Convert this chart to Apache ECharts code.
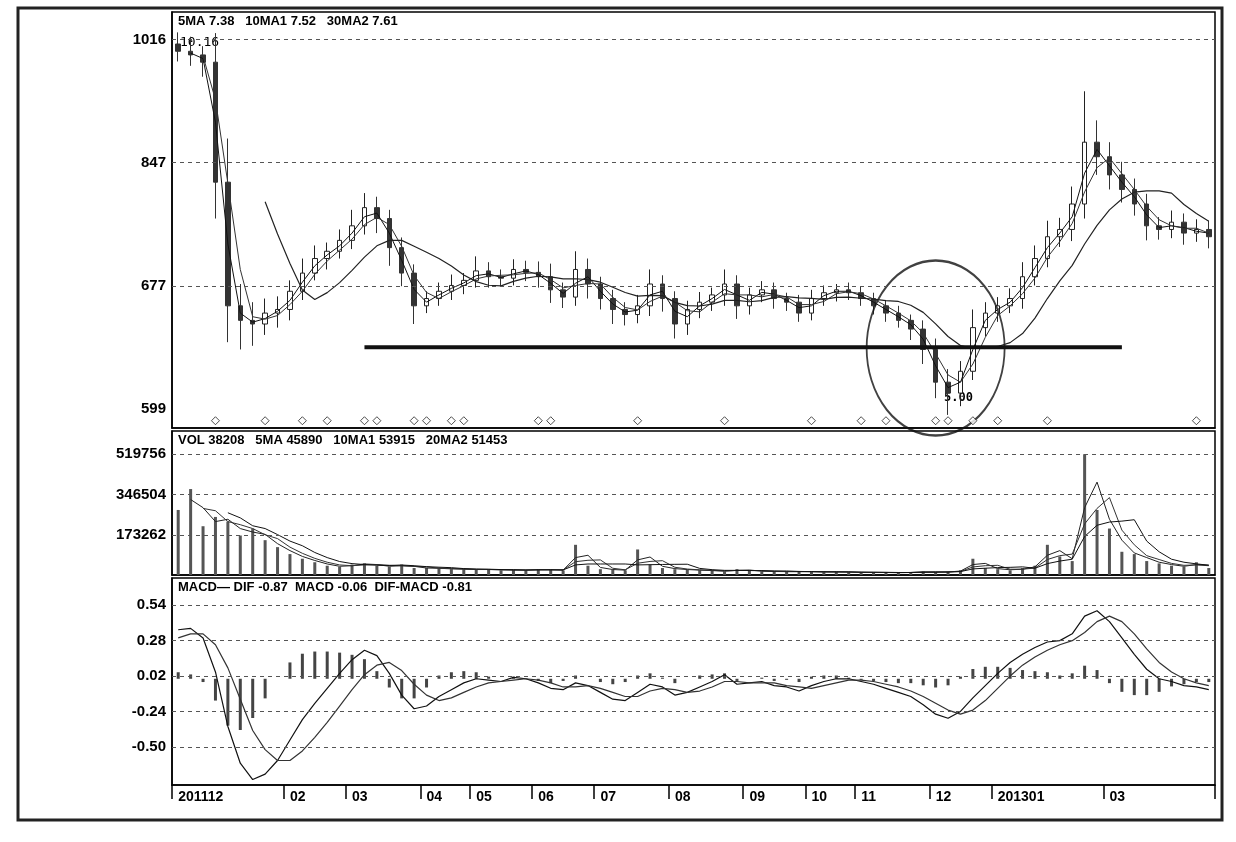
<!DOCTYPE html>
<html><head><meta charset="utf-8">
<script src="https://cdn.jsdelivr.net/npm/echarts@6/dist/echarts.min.js"></script>
<style>html,body{margin:0;background:#fff}#c{width:1236px;height:842px}</style>
</head><body><div id="c"></div>
<script>
const monthLabels = {0:'201112',9:'02',14:'03',20:'04',24:'05',29:'06',34:'07',40:'08',46:'09',51:'10',55:'11',61:'12',66:'201301',75:'03'};
const close = [1000,995,985,820,650,630,625,640,645,670,695,715,725,740,760,785,770,730,695,650,660,670,678,685,698,690,688,700,696,690,672,662,700,680,660,645,638,650,680,660,625,645,655,665,680,650,665,672,660,655,640,660,668,672,668,660,650,640,630,618,590,545,530,560,620,640,650,660,690,715,745,755,790,875,855,830,810,790,760,755,765,750,755,745];
const hiOff = [16,20,12,40,60,30,25,20,18,15,20,18,12,15,22,20,15,12,14,12,10,12,15,10,20,12,10,14,12,15,18,10,25,15,10,12,10,15,20,12,10,12,14,10,20,12,10,12,10,8,10,12,10,8,10,8,8,8,10,8,12,15,18,14,25,15,12,14,20,18,22,16,24,70,30,20,18,15,14,12,16,12,14,12];
const loOff = [14,15,20,50,50,40,30,15,20,15,12,10,15,10,12,12,20,25,18,25,10,10,12,12,10,15,12,10,12,15,18,15,12,20,15,20,15,12,14,18,20,15,12,12,15,18,12,10,14,12,12,10,10,12,10,10,12,12,10,15,20,22,30,18,12,12,12,10,14,12,12,14,16,20,25,20,18,16,20,14,12,16,12,16];
const volume = [280,370,210,250,230,170,200,150,120,90,70,55,40,35,45,50,40,35,45,30,30,28,25,25,22,25,20,22,20,25,22,20,130,40,25,22,20,110,45,30,25,22,20,18,15,25,18,15,15,14,15,14,12,14,12,10,12,10,10,12,15,12,14,20,70,30,25,20,30,40,130,80,60,520,280,200,100,90,60,50,40,35,55,30].map(v=>v*1000);
const dif = [0.36,0.37,0.30,0.05,-0.35,-0.62,-0.74,-0.70,-0.60,-0.45,-0.30,-0.18,-0.07,0.04,0.14,0.21,0.17,0.04,-0.12,-0.22,-0.20,-0.13,-0.08,-0.03,0.0,-0.01,-0.02,0.01,0.0,-0.03,-0.07,-0.08,-0.03,-0.05,-0.10,-0.15,-0.16,-0.10,-0.04,-0.06,-0.12,-0.10,-0.06,-0.02,0.03,-0.04,-0.03,-0.02,-0.05,-0.06,-0.09,-0.05,-0.02,0.0,0.0,-0.02,-0.04,-0.07,-0.10,-0.13,-0.19,-0.26,-0.29,-0.24,-0.14,-0.05,0.04,0.12,0.18,0.23,0.27,0.28,0.33,0.46,0.50,0.42,0.30,0.18,0.07,0.0,-0.02,-0.05,-0.06,-0.08];
const dea = [0.30,0.33,0.33,0.25,0.08,-0.15,-0.38,-0.52,-0.60,-0.60,-0.53,-0.43,-0.32,-0.20,-0.08,0.03,0.10,0.12,0.06,-0.04,-0.12,-0.16,-0.14,-0.10,-0.06,-0.03,-0.02,-0.01,0.0,-0.01,-0.03,-0.06,-0.06,-0.05,-0.07,-0.10,-0.13,-0.13,-0.09,-0.07,-0.08,-0.10,-0.09,-0.06,-0.02,-0.02,-0.03,-0.03,-0.03,-0.05,-0.06,-0.07,-0.05,-0.03,-0.01,-0.01,-0.02,-0.04,-0.06,-0.09,-0.13,-0.18,-0.23,-0.26,-0.23,-0.16,-0.07,0.02,0.10,0.16,0.21,0.25,0.28,0.34,0.42,0.46,0.42,0.33,0.22,0.12,0.05,0.0,-0.03,-0.05];
const diamondIdx = [3,7,10,12,15,16,19,20,22,23,29,30,37,44,51,55,57,61,62,64,66,70,82];
const priceTicks = [508,677,847,1016], priceTickLabels = ['599','677','847','1016'];
const volTicks = [173252,346504,519756], volTickLabels = ['173262','346504','519756'];
const macdTicks = [-0.50,-0.24,0.02,0.28,0.54], macdTickLabels = ['-0.50','-0.24','0.02','0.28','0.54'];

const N = close.length;
const cats = close.map((_,i)=>i);
const candles = close.map((c,i)=>{const o = i? close[i-1] : c+10; return [o,c,Math.min(o,c)-loOff[i],Math.max(o,c)+hiOff[i]];});
function ma(arr,n){return arr.map((_,i)=>{if(i<n-1)return null;let s=0;for(let k=i-n+1;k<=i;k++)s+=arr[k];return +(s/n).toFixed(3);});}
const hist = dif.map((d,i)=>+((d-dea[i])*0.8).toFixed(3));
const F = 'Liberation Sans';
const lab = (vals,txt)=>({customValues:vals,formatter:v=>{const i=vals.findIndex(t=>Math.abs(t-v)<1e-6);return i>=0?txt[i]:'';},color:'#000',fontWeight:'bold',fontSize:15,fontFamily:F,margin:6});
const gridLines = vals=>({silent:true,symbol:'none',label:{show:false},lineStyle:{type:[4,4],color:'#555',width:1},data:vals.map(v=>({yAxis:v}))});
const xAx = (gi,show)=>({type:'category',gridIndex:gi,data:cats,boundaryGap:true,
  axisLine:{onZero:false,lineStyle:{color:'#000',width:1.5}},
  axisTick:{show:show,length:14,interval:(i)=>monthLabels[i]!==undefined,lineStyle:{color:'#000',width:1.5}},
  axisLabel:{show:show,interval:(i)=>monthLabels[i]!==undefined,formatter:(v)=>monthLabels[v]||'',align:'left',margin:5,color:'#000',fontWeight:'bold',fontSize:14,fontFamily:F},
  splitLine:{show:false}});
const yAx = (gi,min,max,vals,txt)=>({type:'value',gridIndex:gi,min:min,max:max,
  axisLine:{show:true,lineStyle:{color:'#000',width:1.5}},axisTick:{show:false},
  axisLabel:lab(vals,txt),splitLine:{show:false}});
const lineS = (xi,data,color,w)=>({type:'line',xAxisIndex:xi,yAxisIndex:xi,data:data,symbol:'none',lineStyle:{color:color,width:w||1},silent:true});

const option = {
  backgroundColor:'#fff',animation:false,
  grid:[
    {left:172,right:21,top:12,height:416,show:true,borderColor:'#000',borderWidth:1.5},
    {left:172,right:21,top:431,height:144,show:true,borderColor:'#000',borderWidth:1.5},
    {left:172,right:21,top:578,height:207,show:true,borderColor:'#000',borderWidth:1.5}
  ],
  xAxis:[xAx(0,false),xAx(1,false),xAx(2,true)],
  yAxis:[yAx(0,482,1054,priceTicks,priceTickLabels),yAx(1,0,620000,volTicks,volTickLabels),yAx(2,-0.78,0.74,macdTicks,macdTickLabels)],
  graphic:[
    {type:'rect',shape:{x:18,y:8,width:1204,height:812},style:{fill:'none',stroke:'#222',lineWidth:3}},
    {type:'text',x:178,y:15,style:{text:'5MA 7.38   10MA1 7.52   30MA2 7.61',font:'bold 13px '+F,fill:'#000'}},
    {type:'text',x:178,y:434,style:{text:'VOL 38208   5MA 45890   10MA1 53915   20MA2 51453',font:'bold 13px '+F,fill:'#000'}},
    {type:'text',x:178,y:581,style:{text:'MACD— DIF -0.87  MACD -0.06  DIF-MACD -0.81',font:'bold 13px '+F,fill:'#000'}},
    {type:'text',x:180,y:36,style:{text:'10.16',font:'13px DejaVu Sans Mono',fill:'#000'}},
    {type:'text',x:944,y:392,style:{text:'5.00',font:'bold 12px DejaVu Sans Mono',fill:'#000'}}
  ],
  series:[
    {type:'candlestick',xAxisIndex:0,yAxisIndex:0,data:candles,barWidth:5,silent:true,
      itemStyle:{color:'#fff',color0:'#333',borderColor:'#222',borderColor0:'#333',borderWidth:1},
      markLine:gridLines(priceTicks.slice(1))},
    lineS(0,ma(close,2),'#111',1),
    lineS(0,ma(close,3),'#333',1),
    lineS(0,ma(close,8),'#222',1.2),
    {type:'line',xAxisIndex:0,yAxisIndex:0,data:cats.map(i=>(i>=15&&i<=76)?593:null),symbol:'none',lineStyle:{color:'#111',width:4},silent:true},
    {type:'scatter',xAxisIndex:0,yAxisIndex:0,data:[[61,592]],symbol:'circle',symbolSize:[138,175],itemStyle:{color:'none',borderColor:'#111',borderWidth:2},silent:true},
    {type:'scatter',xAxisIndex:0,yAxisIndex:0,data:diamondIdx.map(i=>[i,492]),symbol:'diamond',symbolSize:8,itemStyle:{color:'#fff',borderColor:'#222',borderWidth:1},silent:true},
    {type:'bar',xAxisIndex:1,yAxisIndex:1,data:volume,barWidth:3,itemStyle:{color:'#555'},silent:true,markLine:gridLines(volTicks)},
    lineS(1,ma(volume,2),'#222',1),
    lineS(1,ma(volume,3),'#333',1),
    lineS(1,ma(volume,5),'#111',1),
    {type:'bar',xAxisIndex:2,yAxisIndex:2,data:hist,barWidth:3,itemStyle:{color:'#444'},silent:true,markLine:gridLines(macdTicks)},
    lineS(2,dif,'#111',1.2),
    lineS(2,dea,'#333',1.2)
  ]
};
echarts.init(document.getElementById('c')).setOption(option);
</script></body></html>
